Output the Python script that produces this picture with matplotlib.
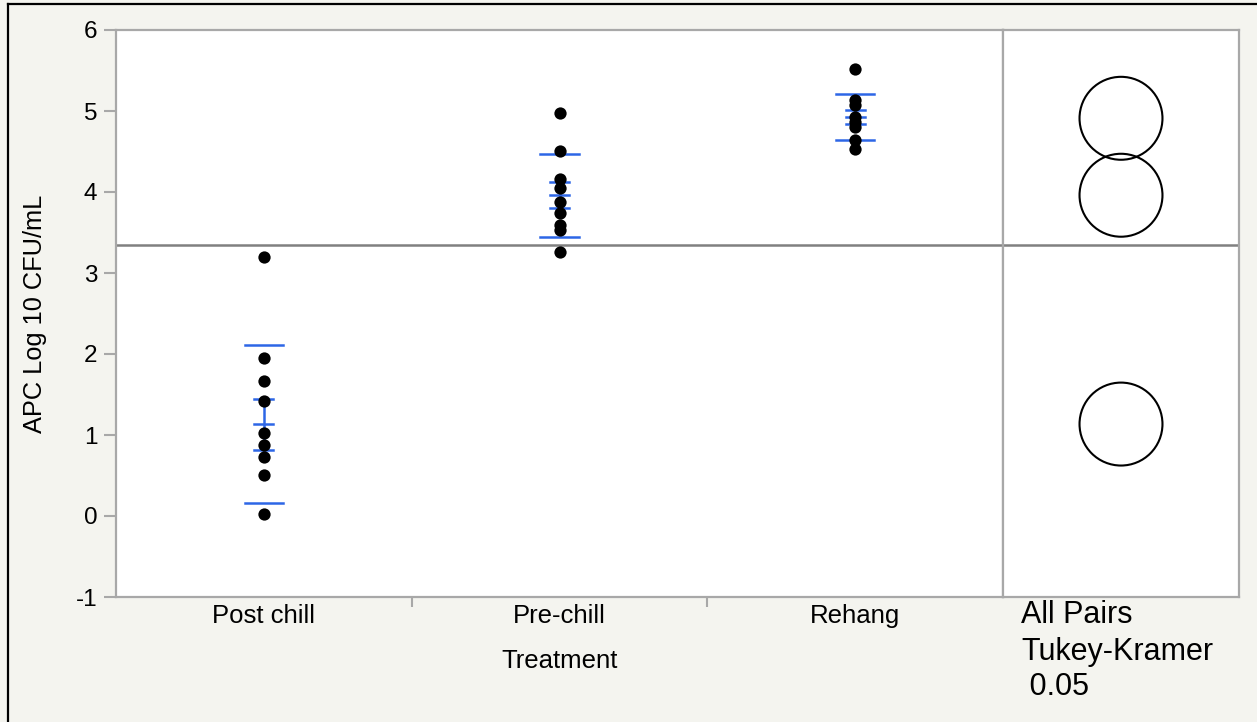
import matplotlib
matplotlib.use("Agg")
import matplotlib.pyplot as plt
from matplotlib.patches import Circle
from matplotlib.lines import Line2D

plt.rcParams['font.family'] = ['Liberation Sans', 'DejaVu Sans']

# ---- data ----
categories = ["Post chill", "Pre-chill", "Rehang"]
post_chill = [3.20, 1.95, 1.67, 1.42, 1.03, 0.88, 0.73, 0.51, 0.02]
pre_chill = [4.98, 4.51, 4.16, 4.05, 3.88, 3.74, 3.59, 3.53, 3.26]
rehang = [5.52, 5.14, 5.07, 4.93, 4.87, 4.80, 4.64, 4.53]
group_means = [1.13, 3.96, 4.925]
group_se = [0.31, 0.16, 0.085]
group_sd = [0.975, 0.51, 0.28]
grand_mean = 3.346
circle_centers = [1.135, 3.96, 4.91]
circle_radius = 0.512
y_ticks = [-1, 0, 1, 2, 3, 4, 5, 6]
x_label = "Treatment"
y_label = "APC Log 10 CFU/mL"
side_text = ["All Pairs", "Tukey-Kramer", " 0.05"]

W, H = 1257, 722
BG = "#f4f4ef"
SPINE = "#a8a8a8"
BLUE = "#2d66e6"

fig = plt.figure(figsize=(W / 100, H / 100), dpi=100, facecolor=BG)

def fx(px):
    return px / W

def fy(py):
    return 1 - py / H

ax_l, ax_r, ax_t, ax_b = 116, 1003, 30, 597
ax = fig.add_axes([fx(ax_l), fy(ax_b), fx(ax_r - ax_l), (ax_b - ax_t) / H])
ax2 = fig.add_axes([fx(ax_r), fy(ax_b), fx(1239 - ax_r), (ax_b - ax_t) / H])

for a in (ax, ax2):
    a.set_facecolor("white")
    for s in a.spines.values():
        s.set_color(SPINE)
        s.set_linewidth(1.6)
    a.set_ylim(-1, 6)

# main axes
groups = [post_chill, pre_chill, rehang]
for i, vals in enumerate(groups):
    ax.scatter([i] * len(vals), vals, s=78, color="black", zorder=4, linewidths=0)
    m, se, sd = group_means[i], group_se[i], group_sd[i]
    wide, narrow = 0.065, 0.032
    for yv in (m - sd, m + sd):
        ax.plot([i - wide, i + wide], [yv, yv], color=BLUE, lw=1.8, zorder=3)
    for yv in (m - se, m, m + se):
        ax.plot([i - narrow, i + narrow], [yv, yv], color=BLUE, lw=1.8, zorder=3)
    ax.plot([i, i], [m - se, m + se], color=BLUE, lw=1.8, zorder=3)

ax.axhline(grand_mean, color="#808080", lw=1.8, zorder=2)
ax.set_xlim(-0.5, 2.5)
ax.set_xticks(range(len(categories)))
ax.set_xticklabels(categories, fontsize=18.5)
ax.set_xticks([0.5, 1.5], minor=True)
ax.tick_params(axis='x', which='major', length=0, pad=5)
ax.tick_params(axis='x', which='minor', length=7, width=1.5, color=SPINE, direction='out')
ax.set_yticks(y_ticks)
ax.set_yticklabels([str(v) for v in y_ticks], fontsize=17.5)
ax.tick_params(axis='y', length=8.5, width=1.5, color=SPINE, pad=5)
ax.set_xlabel(x_label, fontsize=18.5, labelpad=15)
ax.set_ylabel(y_label, fontsize=18.3)
ax.yaxis.set_label_coords(-0.0775, 0.5)

# comparison circles panel
pw = 1239 - ax_r
ph = ax_b - ax_t
xspan = pw / (ph / 7.0)
ax2.set_xlim(0, xspan)
ax2.set_xticks([])
ax2.set_yticks([])
ax2.axhline(grand_mean, color="#808080", lw=1.8, zorder=2)
cx = (1121 - ax_r) / (ph / 7.0)
for c in circle_centers:
    ax2.add_patch(Circle((cx, c), circle_radius, fill=False, ec="black", lw=1.5, zorder=3))

# side text
for t, py in zip(side_text, [615, 652, 687]):
    fig.text(fx(1021), fy(py), t, fontsize=22, ha='left', va='center')

# border lines
fig.add_artist(Line2D([fx(8), 1], [fy(4), fy(4)], color="black", lw=1.6))
fig.add_artist(Line2D([fx(8), fx(8)], [0, fy(4)], color="black", lw=1.6))

fig.savefig("out.png", dpi=100, facecolor=BG)
